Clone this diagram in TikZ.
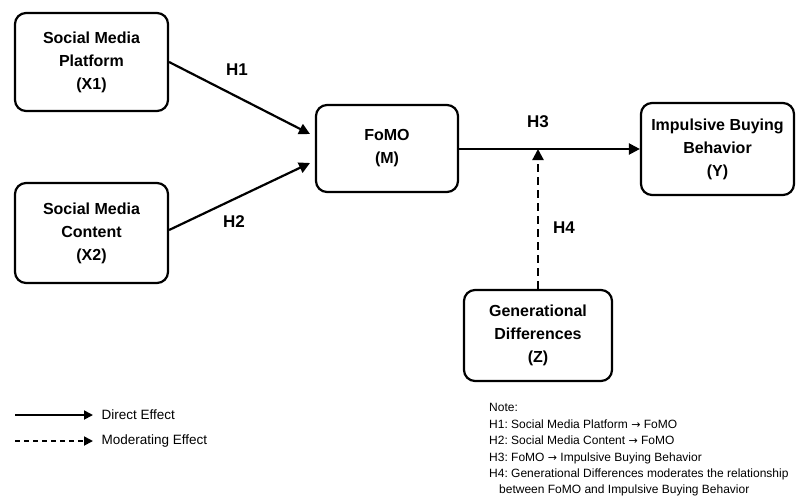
\documentclass[tikz,border=0pt]{standalone}
\usepackage{fontspec}
\setmainfont{Liberation Sans}
\newfontfamily\arrowfont{DejaVu Sans}
\usetikzlibrary{arrows.meta}
\frenchspacing
\begin{document}
\begin{tikzpicture}[x=1pt,y=-1pt,
  box/.style={draw,line width=2.2pt,rounded corners=11pt,align=center,
    font=\fontsize{16}{23}\selectfont\bfseries,inner sep=0pt},
  hlab/.style={font=\fontsize{17}{18}\selectfont\bfseries},
  arr/.style={line width=2.2pt,-{Triangle[length=11pt,width=11pt]}},
  darr/.style={arr,dash pattern=on 8pt off 5pt},
  leg/.style={font=\fontsize{13.5}{15}\selectfont,anchor=west}
]
\useasboundingbox (0,0) rectangle (797,499);
\node[box,minimum width=153pt,minimum height=98pt] (x1) at (91.5,62) {Social Media\\Platform\\(X1)};
\node[box,minimum width=153pt,minimum height=100pt] (x2) at (91.5,233) {Social Media\\Content\\(X2)};
\node[box,minimum width=142pt,minimum height=87pt] (m) at (387,148.5) {FoMO\\(M)};
\node[box,minimum width=153pt,minimum height=92pt] (y) at (717.5,149) {Impulsive Buying\\Behavior\\(Y)};
\node[box,minimum width=148pt,minimum height=91pt] (z) at (538,335.5) {Generational\\Differences\\(Z)};
\coordinate (mid) at (538,149);
\draw[arr] (x1.east |- 0,62) -- (310,134);
\draw[arr] (x2.east |- 0,230) -- (310,163);
\draw[arr] (m.east |- mid) -- (y.west |- mid);
\draw[darr] (z.north) -- (mid);
\node[hlab] (h1) at (237,70) {H1};
\node[hlab] (h2) at (234,222) {H2};
\node[hlab] (h3) at (538,122) {H3};
\node[hlab] (h4) at (564,228) {H4};
\coordinate (l1a) at (15,415);
\coordinate (l1b) at (93,415);
\coordinate (l2a) at (15,441);
\coordinate (l2b) at (93,441);
\draw[arr,line width=1.8pt,-{Triangle[length=9pt,width=9pt]}] (l1a) -- (l1b);
\draw[darr,line width=1.8pt,dash pattern=on 5pt off 4pt,-{Triangle[length=9pt,width=9pt]}] (l2a) -- (l2b);
\node[leg] (t1) at (98,415) {Direct Effect};
\node[leg] (t2) at (98,441) {Moderating Effect};
\node[anchor=north west,align=left,inner sep=0pt,font=\fontsize{12}{16.4}\selectfont] (note) at (489,403.5)
 {Note:\\
  H1: Social Media Platform {\arrowfont\fontsize{11}{10}\selectfont →} FoMO\\
  H2: Social Media Content {\arrowfont\fontsize{11}{10}\selectfont →} FoMO\\
  H3: FoMO {\arrowfont\fontsize{11}{10}\selectfont →} Impulsive Buying Behavior\\
  H4: Generational Differences moderates the relationship\\
  \hspace*{10pt}between FoMO and Impulsive Buying Behavior};
\end{tikzpicture}
\end{document}
